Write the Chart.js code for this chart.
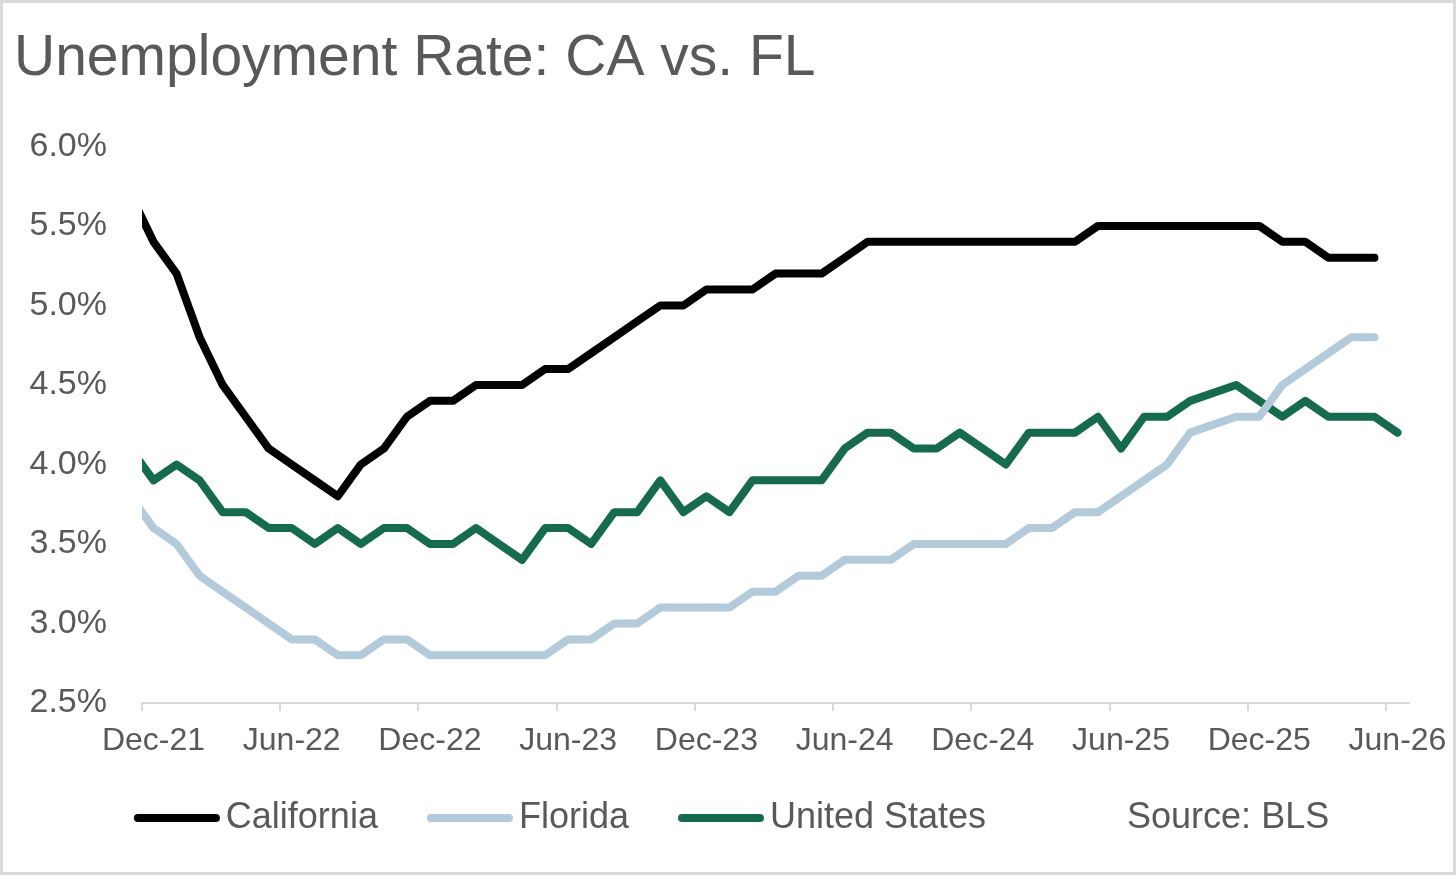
<html lang="en">

<head>
    <meta charset="UTF-8">
    <meta name="viewport" content="width=device-width, initial-scale=1.0">
    <title>Unemployment Rate: CA vs. FL</title>
    <script src="https://cdn.jsdelivr.net/npm/chart.js"></script>
    <style>
        body { margin: 0; background: #ffffff; }
        canvas { display: block; }
    </style>
</head>

<body>
    <canvas id="myChart" width="1456" height="875"></canvas>

    <script>
        // months, starting one month before the axis (that point is clipped at the left edge)
        let months = [
            'Nov-21', 'Dec-21',
            'Jan-22', 'Feb-22', 'Mar-22', 'Apr-22', 'May-22', 'Jun-22', 'Jul-22', 'Aug-22', 'Sep-22', 'Oct-22', 'Nov-22', 'Dec-22',
            'Jan-23', 'Feb-23', 'Mar-23', 'Apr-23', 'May-23', 'Jun-23', 'Jul-23', 'Aug-23', 'Sep-23', 'Oct-23', 'Nov-23', 'Dec-23',
            'Jan-24', 'Feb-24', 'Mar-24', 'Apr-24', 'May-24', 'Jun-24', 'Jul-24', 'Aug-24', 'Sep-24', 'Oct-24', 'Nov-24', 'Dec-24',
            'Jan-25', 'Feb-25', 'Mar-25', 'Apr-25', 'May-25', 'Jun-25', 'Jul-25', 'Aug-25', 'Sep-25', 'Oct-25', 'Nov-25', 'Dec-25',
            'Jan-26', 'Feb-26', 'Mar-26', 'Apr-26', 'May-26', 'Jun-26'
        ];

        // unemployment rate in %, null = no release (Oct-25) or not out yet
        let california = [
            5.7, 5.4,
            5.2, 4.8, 4.5, 4.3, 4.1, 4.0, 3.9, 3.8, 4.0, 4.1, 4.3, 4.4,
            4.4, 4.5, 4.5, 4.5, 4.6, 4.6, 4.7, 4.8, 4.9, 5.0, 5.0, 5.1,
            5.1, 5.1, 5.2, 5.2, 5.2, 5.3, 5.4, 5.4, 5.4, 5.4, 5.4, 5.4,
            5.4, 5.4, 5.4, 5.4, 5.5, 5.5, 5.5, 5.5, 5.5, null, 5.5, 5.5,
            5.4, 5.4, 5.3, 5.3, 5.3, null
        ];
        let florida = [
            3.8, 3.6,
            3.5, 3.3, 3.2, 3.1, 3.0, 2.9, 2.9, 2.8, 2.8, 2.9, 2.9, 2.8,
            2.8, 2.8, 2.8, 2.8, 2.8, 2.9, 2.9, 3.0, 3.0, 3.1, 3.1, 3.1,
            3.1, 3.2, 3.2, 3.3, 3.3, 3.4, 3.4, 3.4, 3.5, 3.5, 3.5, 3.5,
            3.5, 3.6, 3.6, 3.7, 3.7, 3.8, 3.9, 4.0, 4.2, null, 4.3, 4.3,
            4.5, 4.6, 4.7, 4.8, 4.8, null
        ];
        let unitedStates = [
            4.1, 3.9,
            4.0, 3.9, 3.7, 3.7, 3.6, 3.6, 3.5, 3.6, 3.5, 3.6, 3.6, 3.5,
            3.5, 3.6, 3.5, 3.4, 3.6, 3.6, 3.5, 3.7, 3.7, 3.9, 3.7, 3.8,
            3.7, 3.9, 3.9, 3.9, 3.9, 4.1, 4.2, 4.2, 4.1, 4.1, 4.2, 4.1,
            4.0, 4.2, 4.2, 4.2, 4.3, 4.1, 4.3, 4.3, 4.4, null, 4.5, 4.4,
            4.3, 4.4, 4.3, 4.3, 4.3, 4.2
        ];

        let tickLabels = ['Dec-21', 'Jun-22', 'Dec-22', 'Jun-23', 'Dec-23', 'Jun-24', 'Dec-24', 'Jun-25', 'Dec-25', 'Jun-26'];
        let yTicks = [2.5, 3.0, 3.5, 4.0, 4.5, 5.0, 5.5, 6.0];

        // x axis counts months from the Dec-21 tick, each month plotted mid-month
        function toPoints(values) {
            return values.map((v, i) => ({ x: i - 0.5, y: v }));
        }

        // little line picture for the legend, drawn right-heavy so it sits close to its text
        function legendLine(color) {
            let c = document.createElement('canvas');
            c.width = 106;
            c.height = 12;
            let g = c.getContext('2d');
            g.strokeStyle = color;
            g.lineWidth = 8;
            g.lineCap = 'round';
            g.beginPath();
            g.moveTo(22, 6);
            g.lineTo(100, 6);
            g.stroke();
            return c;
        }

        Chart.defaults.font.family = "'Liberation Sans', Arial, sans-serif";
        Chart.defaults.color = '#595959';

        // white page with the thin grey frame
        const frame = {
            id: 'frame',
            beforeDraw(chart) {
                const c = chart.ctx;
                c.save();
                c.fillStyle = '#ffffff';
                c.fillRect(0, 0, chart.width, chart.height);
                c.strokeStyle = '#d9d9d9';
                c.lineWidth = 3;
                c.strokeRect(1.5, 1.5, chart.width - 3, chart.height - 3);
                c.restore();
            }
        };

        // legend sits a bit lower and right of where chart.js would put it
        const legendPlace = {
            id: 'legendPlace',
            beforeLayout(chart) {
                const lg = chart.legend;
                if (lg && !lg._fitPatched) {
                    const fit = lg.fit;
                    lg.fit = function () { fit.call(this); this.height = 120; };
                    lg._fitPatched = true;
                }
            },
            afterLayout(chart) {
                chart.legend.left += 18;
                chart.legend.right += 18;
            }
        };

        let ctx = document.getElementById('myChart').getContext('2d');
        let myChart = new Chart(ctx, {
            type: 'line',
            data: {
                datasets: [{
                    label: 'California',
                    data: toPoints(california),
                    borderColor: '#000000',
                    backgroundColor: '#000000',
                    pointStyle: legendLine('#000000')
                }, {
                    label: 'Florida',
                    data: toPoints(florida),
                    borderColor: '#b3cadb',
                    backgroundColor: '#b3cadb',
                    pointStyle: legendLine('#b3cadb')
                }, {
                    label: 'United States',
                    data: toPoints(unitedStates),
                    borderColor: '#156b4b',
                    backgroundColor: '#156b4b',
                    pointStyle: legendLine('#156b4b')
                }, {
                    label: 'Source: BLS',
                    data: [],
                    borderColor: 'rgba(0,0,0,0)',
                    backgroundColor: 'rgba(0,0,0,0)',
                    pointStyle: legendLine('rgba(0,0,0,0)')
                }]
            },
            options: {
                responsive: false,
                animation: false,
                spanGaps: true,
                layout: { padding: { left: 14, right: 47, top: 0, bottom: 0 } },
                elements: {
                    line: { borderWidth: 8, tension: 0, borderCapStyle: 'round', borderJoinStyle: 'round' },
                    point: { radius: 0, hoverRadius: 0 }
                },
                scales: {
                    x: {
                        type: 'linear',
                        min: 0,
                        max: 55,
                        afterFit: (scale) => { scale.height = 52; },
                        grid: { display: true, drawOnChartArea: false, drawTicks: true, tickLength: 8, color: '#d9d9d9', lineWidth: 2 },
                        border: { display: true, color: '#d9d9d9', width: 2 },
                        ticks: {
                            stepSize: 6,
                            includeBounds: false,
                            autoSkip: false,
                            maxRotation: 0,
                            labelOffset: 11.5,
                            padding: 11,
                            font: { size: 32 },
                            callback: (v) => tickLabels[Math.round(v / 6)] || ''
                        }
                    },
                    y: {
                        min: yTicks[0],
                        max: yTicks[yTicks.length - 1],
                        afterFit: (scale) => { scale.width = 128; },
                        grid: { display: false, drawTicks: false },
                        border: { display: false },
                        ticks: {
                            stepSize: 0.5,
                            padding: 35,
                            font: { size: 34 },
                            callback: (v) => v.toFixed(1) + '%'
                        }
                    }
                },
                plugins: {
                    title: {
                        display: true,
                        text: 'Unemployment Rate: CA vs. FL',
                        align: 'start',
                        color: '#595959',
                        font: { size: 57, weight: 'normal' },
                        padding: { top: 25, bottom: 53 }
                    },
                    legend: {
                        position: 'bottom',
                        labels: {
                            usePointStyle: true,
                            pointStyleWidth: 78,
                            padding: 45,
                            color: '#595959',
                            font: { size: 36 }
                        }
                    },
                    tooltip: { enabled: false }
                }
            },
            plugins: [frame, legendPlace]
        });
    </script>

</body>

</html>
